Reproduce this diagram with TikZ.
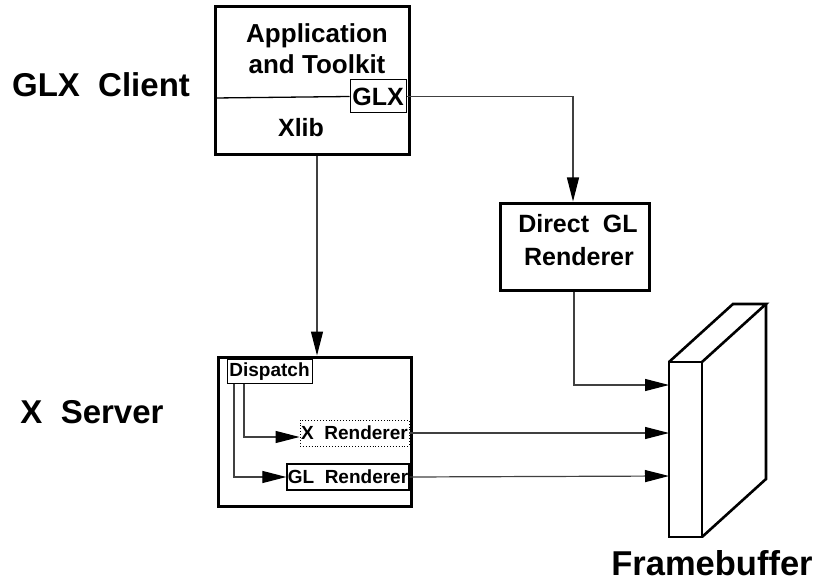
\documentclass[tikz,border=0pt]{standalone}
\usepackage{fontspec}
\setmainfont{Liberation Sans}
\usetikzlibrary{arrows.meta}
\tikzset{
  bigbox/.style={draw, line width=3pt, fill=white, inner sep=0pt},
  smallbox/.style={draw, line width=1pt, inner sep=0pt},
  conn/.style={line width=1.2pt, draw=black!75},
  arr/.style={conn, -{Triangle[length=24pt,width=12pt,color=black]}},
  title/.style={font=\bfseries\fontsize{33}{38}\selectfont, anchor=base},
  boxtext/.style={font=\bfseries\fontsize{25}{30}\selectfont, anchor=base},
  inner/.style={font=\bfseries\fontsize{19}{22}\selectfont, anchor=base},
}
\begin{document}
\begin{tikzpicture}[x=1pt,y=-1pt]
\useasboundingbox (0,0) rectangle (817,583);

% section titles
\node[title] (tclient) at (101,97) {GLX\ \ Client};
\node[title] (tserver) at (92,423) {X\ \ Server};
\node[title, font=\bfseries\fontsize{34.5}{38}\selectfont] (tfb) at (712,575) {Framebuffer};

% client box
\node[bigbox, minimum width=194pt, minimum height=148pt] (client) at (312,81) {};
\coordinate (divl) at (215,98);
\node[smallbox, minimum width=56pt, minimum height=33pt, fill=white] (glx) at (378,96.5) {};
\draw[line width=1.3pt] (divl) -- (glx.west);
\node[boxtext, font=\bfseries\fontsize{26}{30}\selectfont] (app1) at (317,43) {Application};
\node[boxtext, font=\bfseries\fontsize{26}{30}\selectfont] (app2) at (317,74) {and\ Toolkit};
\node[boxtext] (glxt) at (378,106) {GLX};
\node[boxtext] (xlib) at (301,137) {Xlib};

% direct renderer
\node[bigbox, minimum width=149pt, minimum height=87pt] (direct) at (574.5,246.5) {};
\node[boxtext] (dir1) at (578,233) {Direct\ \ GL};
\node[boxtext] (dir2) at (579,265) {Renderer};

% server box
\node[bigbox, minimum width=193pt, minimum height=149pt] (server) at (314.5,431.5) {};
\node[smallbox, minimum width=85pt, minimum height=24pt] (dispatch) at (269.5,371) {};
\node[inner] (dispt) at (269.5,376.5) {Dispatch};
\node[draw, line width=0.9pt, dotted, inner sep=0pt, minimum width=109pt, minimum height=26pt] (xrend) at (354.5,433) {};
\node[inner] (xrendt) at (354.5,439.5) {X\ \ Renderer};
\node[smallbox, line width=1.3pt, minimum width=122pt, minimum height=26pt] (glrend) at (348,477) {};
\node[inner] (glrendt) at (348,483.5) {GL\ \ Renderer};

% framebuffer block
\coordinate (fa) at (669,362);
\coordinate (fb) at (702,362);
\coordinate (fc) at (702,537);
\coordinate (fd) at (669,537);
\coordinate (ba) at (733,304);
\coordinate (bb) at (766,304);
\coordinate (bc) at (766,479);
\draw[line width=2.6pt, line join=miter] (fa) -- (fb) -- (fc) -- (fd) -- cycle;
\draw[line width=2.6pt, line join=miter] (fa) -- (ba) -- (bb) -- (fb);
\draw[line width=2.6pt, line join=miter] (bb) -- (bc) -- (fc);
\coordinate (fin1) at (669,385);
\coordinate (fin2) at (669,433);
\coordinate (fin3) at (669,476);

% connectors
\draw[arr] (glx.east) -| (direct.north -| 573,0);
\draw[arr] (client.south -| 317,0) -- (server.north -| 317,0);
\draw[arr] (direct.south -| 574,0) |- (fin1);
\draw[arr] (dispatch.south -| 244,0) |- (xrend.west |- 0,437);
\draw[arr] (dispatch.south -| 234,0) |- (glrend.west);
\draw[arr] (xrend.east) -- (fin2);
\draw[arr] (glrend.east) -- (fin3);
\end{tikzpicture}
\end{document}
